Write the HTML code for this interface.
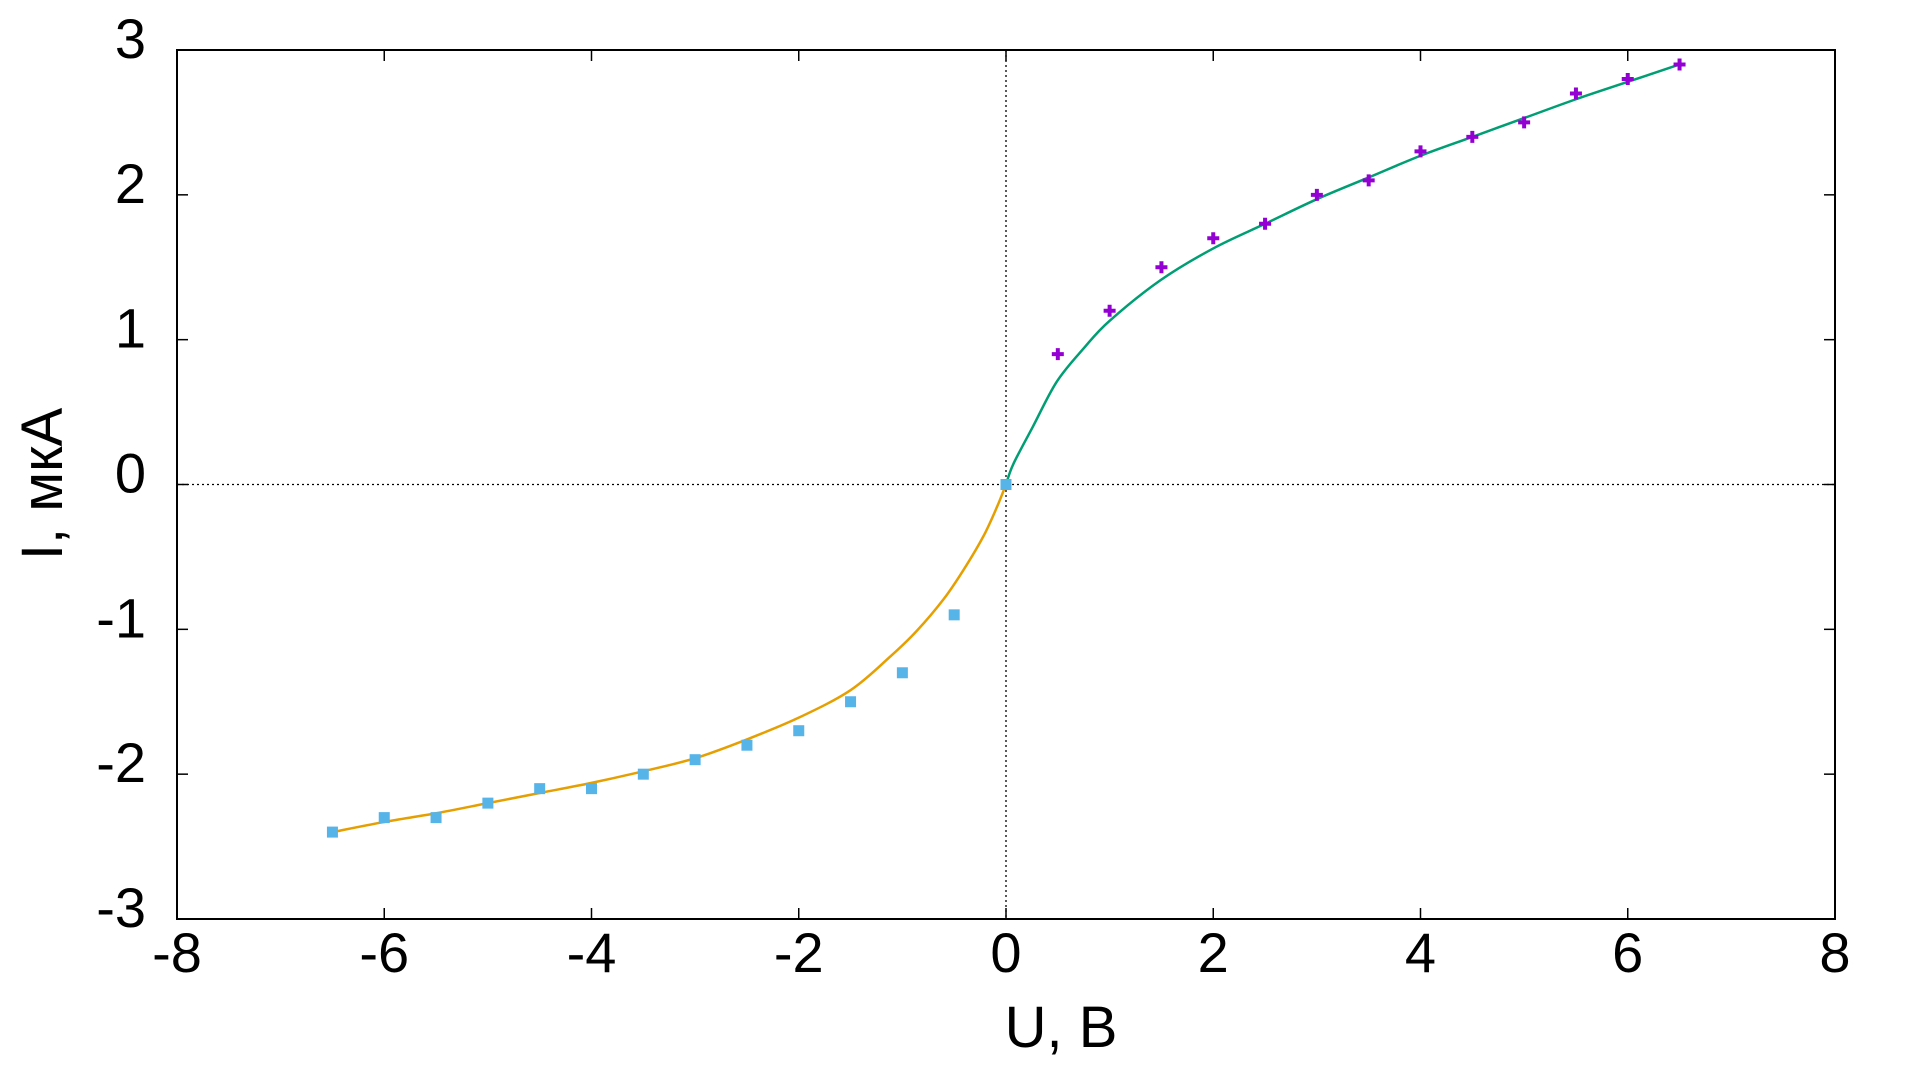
<!DOCTYPE html>
<html><head><meta charset="utf-8"><style>
html,body{margin:0;padding:0;background:#fff;}
svg{display:block;font-family:"Liberation Sans",sans-serif;}
</style></head><body>
<svg id="chart" width="1920" height="1080">
<rect width="1920" height="1080" fill="#fff"/>
<g id="axes"></g><g id="series"></g>
<text x="1061" y="1047" font-size="58" text-anchor="middle">U, B</text>
<text transform="translate(62,484) rotate(-90)" font-size="58" text-anchor="middle">I, мкА</text>
</svg>
<script>
const xTicks=[-8,-6,-4,-2,0,2,4,6,8];
const yTicks=[-3,-2,-1,0,1,2,3];
const posU=[0.5,1,1.5,2,2.5,3,3.5,4,4.5,5,5.5,6,6.5];
const posI=[0.9,1.2,1.5,1.7,1.8,2.0,2.1,2.3,2.4,2.5,2.7,2.8,2.9];
const negU=[-6.5,-6,-5.5,-5,-4.5,-4,-3.5,-3,-2.5,-2,-1.5,-1,-0.5,0];
const negI=[-2.4,-2.3,-2.3,-2.2,-2.1,-2.1,-2.0,-1.9,-1.8,-1.7,-1.5,-1.3,-0.9,0];
const fitPosU=[0,0.07,0.26,0.49,0.75,1.0,1.49,2.0,2.5,3,3.5,4,4.5,5,5.5,6,6.5];
const fitPosI=[0,0.14,0.40,0.71,0.94,1.13,1.41,1.63,1.80,1.97,2.12,2.27,2.4,2.53,2.66,2.78,2.9];
const fitNegU=[-6.5,-6,-5.5,-5,-4.5,-4,-3.5,-3,-2.5,-2,-1.5,-1.12,-0.86,-0.6,-0.41,-0.22,-0.09,0];
const fitNegI=[-2.4,-2.33,-2.27,-2.2,-2.13,-2.06,-1.98,-1.89,-1.76,-1.61,-1.42,-1.19,-1.01,-0.79,-0.59,-0.36,-0.16,0];
const L=177,R=1835,T=50,B=919;
const sx=v=>L+(v+8)/16*(R-L), sy=v=>B-(v+3)/6*(B-T);
const NS='http://www.w3.org/2000/svg';
const axes=document.getElementById('axes'), ser=document.getElementById('series');
function mk(tag,attrs,parent){const e=document.createElementNS(NS,tag);for(const k in attrs)e.setAttribute(k,attrs[k]);parent.appendChild(e);return e;}
let e;
e=mk('line',{x1:L,x2:R,y1:sy(0),y2:sy(0),stroke:'#000','stroke-width':1.3,'stroke-dasharray':'2,3'},axes);


e=mk('line',{x1:sx(0),x2:sx(0),y1:T,y2:B,stroke:'#000','stroke-width':1.3,'stroke-dasharray':'2,3'},axes);


xTicks.forEach(v=>{
  const x=sx(v);
  if(v>-8&&v<8){
    e=mk('line',{x1:x,x2:x,y1:B,y2:B-11,stroke:'#000','stroke-width':1.5},axes);
    
    
    e=mk('line',{x1:x,x2:x,y1:T,y2:T+11,stroke:'#000','stroke-width':1.5},axes);
    
    
  }
  e=mk('text',{x:x,y:972,'font-size':56,'text-anchor':'middle'},axes);
  e.textContent=String(v);
  
  
});
yTicks.forEach(v=>{
  const y=sy(v);
  if(v>-3&&v<3){
    e=mk('line',{x1:L,x2:L+11,y1:y,y2:y,stroke:'#000','stroke-width':1.5},axes);
    
    
    e=mk('line',{x1:R,x2:R-11,y1:y,y2:y,stroke:'#000','stroke-width':1.5},axes);
    
    
  }
  e=mk('text',{x:146,y:y+8,'font-size':56,'text-anchor':'end'},axes);
  e.textContent=String(v);
  
  
});
e=mk('rect',{x:L,y:T,width:R-L,height:B-T,fill:'none',stroke:'#000','stroke-width':2},axes);


function smooth(us,is){
  const p=us.map((u,i)=>[sx(u),sy(is[i])]);
  let d='M'+p[0][0]+','+p[0][1];
  for(let i=0;i<p.length-1;i++){
    const p0=p[i-1]||p[i],p1=p[i],p2=p[i+1],p3=p[i+2]||p2;
    const c1=[p1[0]+(p2[0]-p0[0])/6,p1[1]+(p2[1]-p0[1])/6];
    const c2=[p2[0]-(p3[0]-p1[0])/6,p2[1]-(p3[1]-p1[1])/6];
    d+=` C${c1[0]},${c1[1]} ${c2[0]},${c2[1]} ${p2[0]},${p2[1]}`;
  }
  return d;
}
e=mk('path',{d:smooth(fitNegU,fitNegI),fill:'none',stroke:'#e69f00','stroke-width':2.5},ser);


e=mk('path',{d:smooth(fitPosU,fitPosI),fill:'none',stroke:'#009e73','stroke-width':2.5},ser);


negU.forEach((u,i)=>{
  e=mk('rect',{x:sx(u)-5.5,y:sy(negI[i])-5.5,width:11,height:11,fill:'#56b4e9'},ser);
  
  
});
posU.forEach((u,i)=>{
  const x=sx(u),y=sy(posI[i]);
  e=mk('path',{d:`M${x-6},${y}H${x+6}M${x},${y-6}V${y+6}`,stroke:'#9400d3','stroke-width':4,fill:'none'},ser);
  
  
});
</script>
</body></html>
